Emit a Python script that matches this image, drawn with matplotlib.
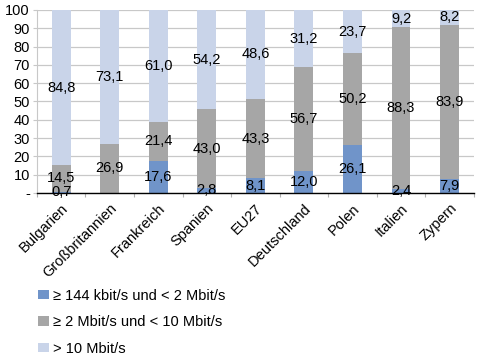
import matplotlib
matplotlib.use("Agg")
import matplotlib.pyplot as plt
import numpy as np

plt.rcParams['font.family'] = ['Liberation Sans', 'DejaVu Sans']

# data
countries = ["Bulgarien", "Großbritannien", "Frankreich", "Spanien", "EU27",
             "Deutschland", "Polen", "Italien", "Zypern"]
low = [0.7, 0.0, 17.6, 2.8, 8.1, 12.0, 26.1, 2.4, 7.9]
mid = [14.5, 26.9, 21.4, 43.0, 43.3, 56.7, 50.2, 88.3, 83.9]
high = [84.8, 73.1, 61.0, 54.2, 48.6, 31.2, 23.7, 9.2, 8.2]
series_names = ["≥ 144 kbit/s und < 2 Mbit/s",
                "≥ 2 Mbit/s und < 10 Mbit/s",
                "> 10 Mbit/s"]
colors = ["#7094c9", "#a6a6a6", "#c9d4e9"]

fs = 10.5

fig = plt.figure(figsize=(4.85, 3.59), dpi=100)
ax = fig.add_axes([0.076, 0.4624, 0.901, 0.5098])

x = np.arange(len(countries))
bottom = np.zeros(len(countries))
handles = []
for vals, col, name in zip([low, mid, high], colors, series_names):
    vals = np.array(vals)
    b = ax.bar(x, vals, width=0.39, bottom=bottom, color=col, zorder=2, label=name)
    handles.append(b)
    for xi, v, bt in zip(x, vals, bottom):
        txt = "-" if v == 0 else f"{v:.1f}".replace(".", ",")
        ax.text(xi, bt + v / 2, txt, ha="center", va="center", fontsize=fs, zorder=3)
    bottom = bottom + vals

ax.set_xlim(-0.5, len(countries) - 0.5)
ax.set_ylim(0, 100)
ax.set_yticks(np.arange(0, 101, 10))
ax.set_yticklabels(["-"] + [str(v) for v in range(10, 101, 10)], fontsize=fs)
ax.yaxis.grid(True, color="#c8c8c8", linewidth=0.9, zorder=0)
ax.tick_params(axis="y", length=3, color="#c8c8c8", pad=2)

ax.set_xticks(np.arange(-0.5, len(countries), 1))
ax.set_xticklabels([])
ax.set_xticks(x, minor=True)
ax.set_xticklabels(countries, minor=True, rotation=45, ha="right",
                   rotation_mode="anchor", fontsize=fs)
ax.tick_params(axis="x", which="major", length=3, color="#b0b0b0")
ax.tick_params(axis="x", which="minor", length=0, pad=6)

for s in ["top", "right"]:
    ax.spines[s].set_visible(False)
ax.spines["left"].set_color("#c8c8c8")
ax.spines["bottom"].set_color("black")
ax.spines["bottom"].set_linewidth(1.0)

fig.legend(handles=handles, loc="upper left", bbox_to_anchor=(0.066, 0.212),
           frameon=False, fontsize=fs, handlelength=0.75, handleheight=0.65,
           handletextpad=0.3, labelspacing=0.85, borderaxespad=0)

fig.savefig("out.png", dpi=100)
